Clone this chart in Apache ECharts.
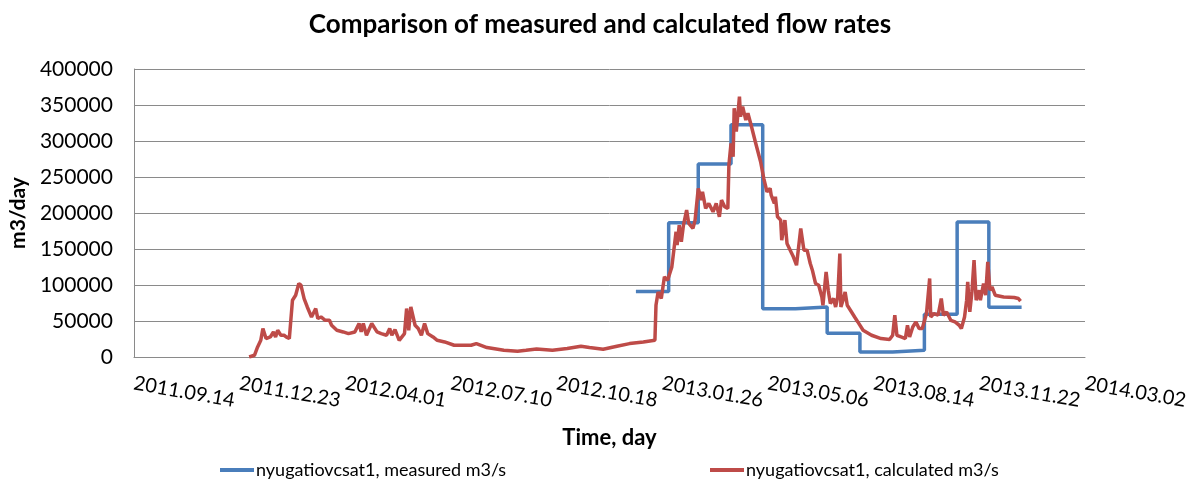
<!DOCTYPE html>
<html>
<head>
<meta charset="utf-8">
<script src="https://cdn.jsdelivr.net/npm/echarts@6/dist/echarts.min.js"></script>
<style>
html,body{margin:0;padding:0;background:#fff;}
#chart{width:1200px;height:484px;}
</style>
</head>
<body>
<div id="chart"></div>
<script>
// ---- data ----
var titleText = 'Comparison of measured and calculated flow rates';
var yAxisName = 'm3/day';
var xAxisName = 'Time, day';
var seriesNames = ['nyugatiovcsat1, measured m3/s', 'nyugatiovcsat1, calculated m3/s'];

var axisStartDate = '2011-09-14';
var axisTickDays = 100;
var axisTickCount = 9;

var yTicks = [0, 50000, 100000, 150000, 200000, 250000, 300000, 350000, 400000];

// measured: monthly values (step, value held until next date)
var measDates = ['2013-01-01','2013-02-01','2013-03-01','2013-04-01','2013-05-01','2013-06-01',
  '2013-07-01','2013-08-01','2013-09-01','2013-10-01','2013-11-01','2013-12-01','2014-01-01'];
var measValues = [91000,186500,268000,322500,67000,69500,33000,7000,9500,59500,187500,69000,69000];

// calculated: daily values (sampled)
var calcDates = [
 '2012-01-01','2012-01-06','2012-01-09','2012-01-12','2012-01-14','2012-01-17','2012-01-21','2012-01-24','2012-01-26','2012-01-28',
 '2012-01-31','2012-02-03','2012-02-05','2012-02-08','2012-02-11','2012-02-14','2012-02-17','2012-02-19','2012-02-22','2012-02-25',
 '2012-02-29','2012-03-04','2012-03-06','2012-03-09','2012-03-13','2012-03-17','2012-03-19','2012-03-24','2012-03-30','2012-04-04',
 '2012-04-10','2012-04-14','2012-04-16','2012-04-18','2012-04-21','2012-04-26','2012-05-01','2012-05-05','2012-05-10','2012-05-13',
 '2012-05-15','2012-05-18','2012-05-22','2012-05-27','2012-05-29','2012-05-31','2012-06-02','2012-06-06','2012-06-09','2012-06-12',
 '2012-06-15','2012-06-18','2012-06-23','2012-06-27','2012-07-04','2012-07-13','2012-07-29','2012-08-03','2012-08-13','2012-08-29',
 '2012-09-11','2012-09-19','2012-09-29','2012-10-14','2012-10-28','2012-11-10','2012-11-18','2012-12-01','2012-12-14','2012-12-26',
 '2013-01-08','2013-01-19','2013-01-20','2013-01-22','2013-01-25','2013-01-28','2013-01-31','2013-02-04','2013-02-08','2013-02-09',
 '2013-02-11','2013-02-13','2013-02-15','2013-02-18','2013-02-20','2013-02-24','2013-02-26','2013-03-01','2013-03-04','2013-03-05',
 '2013-03-08','2013-03-11','2013-03-15','2013-03-18','2013-03-21','2013-03-23','2013-03-26','2013-03-29','2013-03-30','2013-04-01',
 '2013-04-03','2013-04-04','2013-04-06','2013-04-09','2013-04-10','2013-04-12','2013-04-15','2013-04-17','2013-04-20','2013-04-24',
 '2013-04-29','2013-05-02','2013-05-05','2013-05-08','2013-05-09','2013-05-12','2013-05-13','2013-05-15','2013-05-18','2013-05-19',
 '2013-05-22','2013-05-24','2013-05-27','2013-05-30','2013-06-02','2013-06-06','2013-06-09','2013-06-12','2013-06-15','2013-06-17',
 '2013-06-20','2013-06-23','2013-06-26','2013-06-27','2013-06-30','2013-07-02','2013-07-04','2013-07-07','2013-07-09','2013-07-11',
 '2013-07-13','2013-07-14','2013-07-16','2013-07-18','2013-07-20','2013-07-23','2013-07-27','2013-07-30','2013-08-04','2013-08-12',
 '2013-08-21','2013-08-29','2013-09-01','2013-09-03','2013-09-05','2013-09-09','2013-09-13','2013-09-15','2013-09-17','2013-09-20',
 '2013-09-23','2013-09-26','2013-09-29','2013-10-03','2013-10-06','2013-10-07','2013-10-10','2013-10-14','2013-10-17','2013-10-19',
 '2013-10-22','2013-10-26','2013-10-30','2013-11-03','2013-11-05','2013-11-08','2013-11-10','2013-11-11','2013-11-13','2013-11-15',
 '2013-11-17','2013-11-19','2013-11-22','2013-11-23','2013-11-26','2013-11-28','2013-11-30','2013-12-02','2013-12-04','2013-12-07',
 '2013-12-15','2013-12-25','2013-12-29','2013-12-31'
];
var calcValues = [
 0,2400,13900,23200,39500,25600,27800,34800,27800,37100,
 30200,30200,28000,25600,78900,85800,102100,99700,81200,69500,
 55600,67300,53400,55600,51000,51000,44100,37100,34800,32500,
 34800,46500,34800,46500,30200,46500,34800,32500,30200,39500,
 30200,38100,23200,32500,67300,37100,69500,44100,39500,30200,
 46500,32500,27800,23200,20900,16300,16300,18600,13100,9300,
 7900,9300,11100,9300,11700,14900,13100,10700,14900,18600,
 20900,23200,71900,90400,81200,111300,106700,125200,173900,155400,
 183200,160000,183200,204000,185500,178600,190100,234200,217900,229500,
 206400,213300,201700,213300,194700,217900,208600,206400,266600,296800,
 278200,345500,312900,361600,333800,347700,329200,338500,322200,299000,
 271200,248100,229500,234200,224900,213300,222500,194700,190100,162300,
 190100,157700,148400,139100,127500,178600,148400,148400,129900,120600,
 102100,99700,83400,71900,118200,92800,74300,81200,69500,83400,
 143800,69500,78900,90400,71900,65000,55600,48700,37100,30200,
 25600,24200,30200,58000,30200,27800,25600,44100,27800,41700,
 48700,39500,39500,60400,109000,55600,60400,58000,81200,58000,
 62600,51000,48700,44100,39500,55600,78900,104300,62600,90400,
 134500,78900,92800,78900,102100,85800,132100,92800,97400,85800,
 83400,82600,81200,77500
];

// ---- chart ----
var DAY = 86400000;
function ts(s){ return Date.parse(s + 'T00:00:00Z'); }
function pad(n){ return (n < 10 ? '0' : '') + n; }
function fmt(v){
  var d = new Date(v);
  return d.getUTCFullYear() + '.' + pad(d.getUTCMonth() + 1) + '.' + pad(d.getUTCDate());
}
var xMin = ts(axisStartDate);
var xMax = xMin + axisTickDays * axisTickCount * DAY;

var measData = measDates.map(function(d, i){ return [ts(d), measValues[i]]; });
var calcData = calcDates.map(function(d, i){ return [ts(d), calcValues[i]]; });

var FONT = 'Lato';
var gridColor = '#8a8a8a';
var blue = '#4A7EBB';
var red = '#BE4B48';

var chart = echarts.init(document.getElementById('chart'), null, {renderer: 'canvas'});
chart.setOption({
  animation: false,
  backgroundColor: '#ffffff',
  title: {
    text: titleText,
    left: 'center',
    top: 7,
    textStyle: {fontFamily: FONT, fontSize: 26, fontWeight: 'bold', color: '#000'}
  },
  legend: [{
    data: [seriesNames[0]],
    left: 215, top: 456,
    icon: 'rect', itemWidth: 34, itemHeight: 4,
    textStyle: {fontFamily: FONT, fontSize: 18, color: '#000', padding: [0, 0, 0, -3]}
  }, {
    data: [seriesNames[1]],
    left: 705, top: 456,
    icon: 'rect', itemWidth: 34, itemHeight: 4,
    textStyle: {fontFamily: FONT, fontSize: 18, color: '#000', padding: [0, 0, 0, -3]}
  }],
  grid: {left: 127, right: 115, top: 69, bottom: 127, containLabel: false},
  xAxis: {
    type: 'value',
    min: xMin, max: xMax, interval: axisTickDays * DAY,
    name: xAxisName,
    nameLocation: 'middle',
    nameGap: 70,
    nameTextStyle: {fontFamily: FONT, fontSize: 22, fontWeight: 'bold', color: '#000'},
    axisLine: {show: true, lineStyle: {color: gridColor, width: 1}},
    axisTick: {show: false},
    splitLine: {show: false},
    axisLabel: {
      rotate: -10, margin: 26,
      fontFamily: FONT, fontSize: 20, color: '#000',
      showMinLabel: true, showMaxLabel: true,
      formatter: fmt
    }
  },
  yAxis: {
    type: 'value',
    min: yTicks[0], max: yTicks[yTicks.length - 1], interval: yTicks[1] - yTicks[0],
    name: yAxisName,
    nameLocation: 'middle',
    nameGap: 100,
    nameTextStyle: {fontFamily: FONT, fontSize: 21, fontWeight: 'bold', color: '#000'},
    axisLine: {show: true, lineStyle: {color: gridColor, width: 1}},
    axisTick: {show: false},
    splitLine: {show: true, lineStyle: {color: gridColor, width: 1}},
    axisLabel: {margin: 21, fontFamily: FONT, fontSize: 21, color: '#000',
      formatter: function(v){ return String(v); }}
  },
  series: [{
    name: seriesNames[0],
    type: 'line',
    step: 'end',
    data: measData,
    showSymbol: false, symbol: 'none',
    lineStyle: {color: blue, width: 3.5},
    itemStyle: {color: blue}
  }, {
    name: seriesNames[1],
    type: 'line',
    data: calcData,
    showSymbol: false, symbol: 'none',
    lineStyle: {color: red, width: 3.5},
    itemStyle: {color: red}
  }]
});
</script>
</body>
</html>
